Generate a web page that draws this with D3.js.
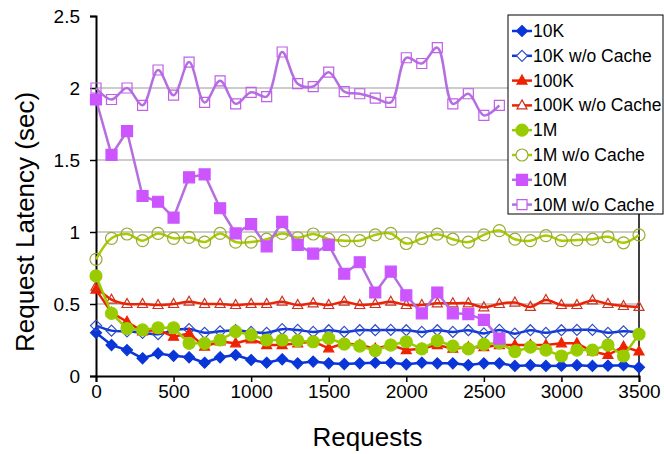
<!DOCTYPE html>
<html>
<head>
<meta charset="utf-8">
<script src="https://cdn.jsdelivr.net/npm/d3@7"></script>
<style>
  body { margin: 0; background: #fff; }
  svg { font-family: "Liberation Sans", Arial, sans-serif; display: block; }
</style>
</head>
<body>
<div id="chart"></div>
<script>
let requests = [0, 100, 200, 300, 400, 500, 600, 700, 800, 900, 1000, 1100, 1200,
  1300, 1400, 1500, 1600, 1700, 1800, 1900, 2000, 2100, 2200, 2300, 2400, 2500,
  2600, 2700, 2800, 2900, 3000, 3100, 3200, 3300, 3400, 3500];

let lat_10k = [0.30, 0.215, 0.18, 0.123, 0.157, 0.14, 0.13, 0.092, 0.13, 0.146, 0.111,
  0.092, 0.116, 0.088, 0.10, 0.088, 0.083, 0.088, 0.092, 0.092, 0.081, 0.092, 0.088,
  0.088, 0.076, 0.088, 0.088, 0.07, 0.075, 0.07, 0.072, 0.075, 0.07, 0.072, 0.075, 0.06];
let lat_10k_nc = [0.35, 0.315, 0.31, 0.30, 0.29, 0.318, 0.326, 0.30, 0.31, 0.318, 0.306,
  0.30, 0.325, 0.32, 0.306, 0.318, 0.306, 0.318, 0.318, 0.32, 0.318, 0.306, 0.318,
  0.306, 0.318, 0.296, 0.32, 0.294, 0.318, 0.30, 0.318, 0.32, 0.32, 0.30, 0.31, 0.30];
let lat_100k = [0.60, 0.44, 0.377, 0.31, 0.32, 0.273, 0.296, 0.204, 0.24, 0.227, 0.255,
  0.215, 0.215, 0.227, 0.24, 0.192, 0.227, 0.215, 0.19, 0.215, 0.18, 0.19, 0.215,
  0.19, 0.20, 0.20, 0.215, 0.215, 0.215, 0.215, 0.227, 0.227, 0.17, 0.146, 0.204, 0.17];
let lat_100k_nc = [0.62, 0.53, 0.50, 0.50, 0.493, 0.50, 0.516, 0.50, 0.50, 0.493, 0.50,
  0.50, 0.516, 0.493, 0.505, 0.493, 0.516, 0.493, 0.50, 0.516, 0.493, 0.493, 0.505,
  0.505, 0.505, 0.477, 0.50, 0.51, 0.48, 0.528, 0.493, 0.493, 0.525, 0.50, 0.486, 0.48];
let lat_1m = [0.695, 0.435, 0.33, 0.32, 0.335, 0.335, 0.227, 0.227, 0.25, 0.308, 0.285,
  0.25, 0.25, 0.245, 0.238, 0.262, 0.222, 0.208, 0.176, 0.215, 0.238, 0.188, 0.245,
  0.208, 0.188, 0.22, 0.23, 0.17, 0.20, 0.18, 0.139, 0.18, 0.18, 0.215, 0.139, 0.29];
let lat_1m_nc = [0.81, 0.956, 0.986, 0.94, 0.99, 0.956, 0.963, 0.93, 0.99, 0.93, 0.93,
  0.95, 0.99, 0.96, 0.986, 0.95, 0.94, 0.94, 0.98, 0.99, 0.92, 0.955, 0.985, 0.95,
  0.93, 0.98, 1.01, 0.95, 0.94, 0.975, 0.94, 0.945, 0.95, 0.967, 0.925, 0.98];
// the 10M runs stop at 2600 requests
let lat_10m = [1.92, 1.535, 1.70, 1.25, 1.21, 1.10, 1.38, 1.40, 1.165, 0.99, 1.055,
  0.90, 1.07, 0.91, 0.85, 0.91, 0.71, 0.79, 0.58, 0.725, 0.56, 0.435, 0.58, 0.435,
  0.43, 0.39, 0.26];
let lat_10m_nc = [2.0, 1.92, 2.0, 1.88, 2.125, 1.95, 2.18, 1.90, 2.05, 1.89, 1.97,
  1.94, 2.25, 2.03, 2.01, 2.11, 1.975, 1.96, 1.93, 1.90, 2.21, 2.17, 2.28, 1.89,
  1.96, 1.81, 1.88];

let x_ticks = [0, 500, 1000, 1500, 2000, 2500, 3000, 3500];
let y_ticks = [0, 0.5, 1, 1.5, 2, 2.5];

let series = [
  { name: "10K", values: lat_10k, shape: "diamond", line: "#0a36d8", fill: "#0a36d8", stroke: "#0a36d8", smooth: false },
  { name: "10K w/o Cache", values: lat_10k_nc, shape: "diamond", line: "#1136dc", fill: "#fff", stroke: "#3050c0", smooth: true },
  { name: "100K", values: lat_100k, shape: "triangle", line: "#ee2200", fill: "#ee2200", stroke: "#ee2200", smooth: false },
  { name: "100K w/o Cache", values: lat_100k_nc, shape: "triangle", line: "#ee2200", fill: "#fff", stroke: "#cc3322", smooth: true },
  { name: "1M", values: lat_1m, shape: "circle", line: "#99cc00", fill: "#99cc00", stroke: "#99cc00", smooth: false },
  { name: "1M w/o Cache", values: lat_1m_nc, shape: "circle", line: "#a8cc00", fill: "#fff", stroke: "#99aa33", smooth: true },
  { name: "10M", values: lat_10m, shape: "square", line: "#b46ee0", fill: "#cc55ff", stroke: "#cc55ff", smooth: false },
  { name: "10M w/o Cache", values: lat_10m_nc, shape: "square", line: "#b46ee0", fill: "#fff", stroke: "#c060e8", smooth: true }
];

let width = 664, height = 454;
let margin = { left: 96, right: 25, top: 16, bottom: 78 };

function marker_path(shape, filled) {
  if (shape === "diamond") return "M0,-5.5L5.5,0L0,5.5L-5.5,0Z";
  if (shape === "triangle") return "M0,-5.5L5,3.5L-5,3.5Z";
  if (shape === "square") return filled ? "M-5.5,-5.5H5.5V5.5H-5.5Z" : "M-5,-5H5V5H-5Z";
  let r = 6;
  return "M" + -r + ",0A" + r + "," + r + " 0 1,0 " + r + ",0A" + r + "," + r + " 0 1,0 " + -r + ",0Z";
}

let svg = d3.select("#chart").append("svg")
  .attr("width", width)
  .attr("height", height);

let x_scale = d3.scaleLinear().domain([0, 3500]).range([margin.left, width - margin.right]);
let y_scale = d3.scaleLinear().domain([0, 2.5]).range([height - margin.bottom, margin.top]);

// gridlines
svg.append("g")
  .selectAll("line")
  .data(y_ticks.filter(d => d > 0 && d < 2.5))
  .enter()
  .append("line")
  .attr("x1", x_scale(0))
  .attr("x2", x_scale(3500))
  .attr("y1", d => y_scale(d))
  .attr("y2", d => y_scale(d))
  .attr("stroke", "#bbb")
  .attr("stroke-width", 1.5);

// right edge of the plot area
svg.append("line")
  .attr("x1", x_scale(3500)).attr("x2", x_scale(3500))
  .attr("y1", y_scale(2.5)).attr("y2", y_scale(0))
  .attr("stroke", "#000").attr("stroke-width", 1.5);

let x_axis = svg.append("g")
  .attr("transform", "translate(0," + y_scale(0) + ")")
  .call(d3.axisBottom(x_scale).tickValues(x_ticks).tickSize(6).tickPadding(3).tickFormat(d3.format("d")));
let y_axis = svg.append("g")
  .attr("transform", "translate(" + x_scale(0) + ",0)")
  .call(d3.axisLeft(y_scale).tickValues(y_ticks).tickSize(6).tickPadding(10).tickFormat(d => String(d)));

[x_axis, y_axis].forEach(ax => {
  ax.select(".domain").attr("stroke", "#000").attr("stroke-width", 2);
  ax.selectAll(".tick line").attr("stroke", "#000").attr("stroke-width", 1.5);
  ax.selectAll(".tick text").attr("fill", "#000").style("font-size", "19px")
    .style("font-family", "'Liberation Sans', Arial, sans-serif");
});

// series, drawn in order so later ones sit on top
series.forEach(s => {
  let pts = s.values.map((v, i) => [requests[i], v]);
  let line = d3.line()
    .x(d => x_scale(d[0]))
    .y(d => y_scale(d[1]))
    .curve(s.smooth ? d3.curveCatmullRom.alpha(0.5) : d3.curveLinear);
  let g = svg.append("g");
  g.append("path")
    .attr("d", line(pts))
    .attr("fill", "none")
    .attr("stroke", s.line)
    .attr("stroke-width", 2.5)
    .attr("stroke-linejoin", "round");
  g.selectAll(".pt")
    .data(pts)
    .enter()
    .append("path")
    .attr("class", "pt")
    .attr("transform", d => "translate(" + x_scale(d[0]) + "," + y_scale(d[1]) + ")")
    .attr("d", marker_path(s.shape, s.fill !== "#fff"))
    .attr("fill", s.fill === "#fff" ? "none" : s.fill)
    .attr("stroke", s.stroke)
    .attr("stroke-width", 1.2);
});

// legend
let legend = svg.append("g").attr("transform", "translate(508,15)");
legend.append("rect")
  .attr("x", 0).attr("y", 0)
  .attr("width", 155).attr("height", 199)
  .attr("fill", "#fff")
  .attr("stroke", "#000")
  .attr("stroke-width", 1);
let rows = legend.selectAll(".row")
  .data(series)
  .enter()
  .append("g")
  .attr("class", "row")
  .attr("transform", (d, i) => "translate(0," + (16 + i * 24.8) + ")");
rows.append("line")
  .attr("x1", 4).attr("x2", 24)
  .attr("stroke", d => d.line)
  .attr("stroke-width", 2.5);
rows.append("path")
  .attr("transform", "translate(14,0)")
  .attr("d", d => marker_path(d.shape, d.fill !== "#fff"))
  .attr("fill", d => d.fill === "#fff" ? "#fff" : d.fill)
  .attr("stroke", d => d.stroke)
  .attr("stroke-width", 1.2);
rows.append("text")
  .attr("x", 25)
  .attr("y", 6)
  .style("font-size", "17.5px")
  .text(d => d.name);

// axis titles
svg.append("text")
  .attr("x", x_scale(1750))
  .attr("y", 446)
  .attr("text-anchor", "middle")
  .style("font-size", "26px")
  .text("Requests");
svg.append("text")
  .attr("transform", "translate(34,222) rotate(-90)")
  .attr("text-anchor", "middle")
  .style("font-size", "26px")
  .text("Request Latency (sec)");
</script>
</body>
</html>
